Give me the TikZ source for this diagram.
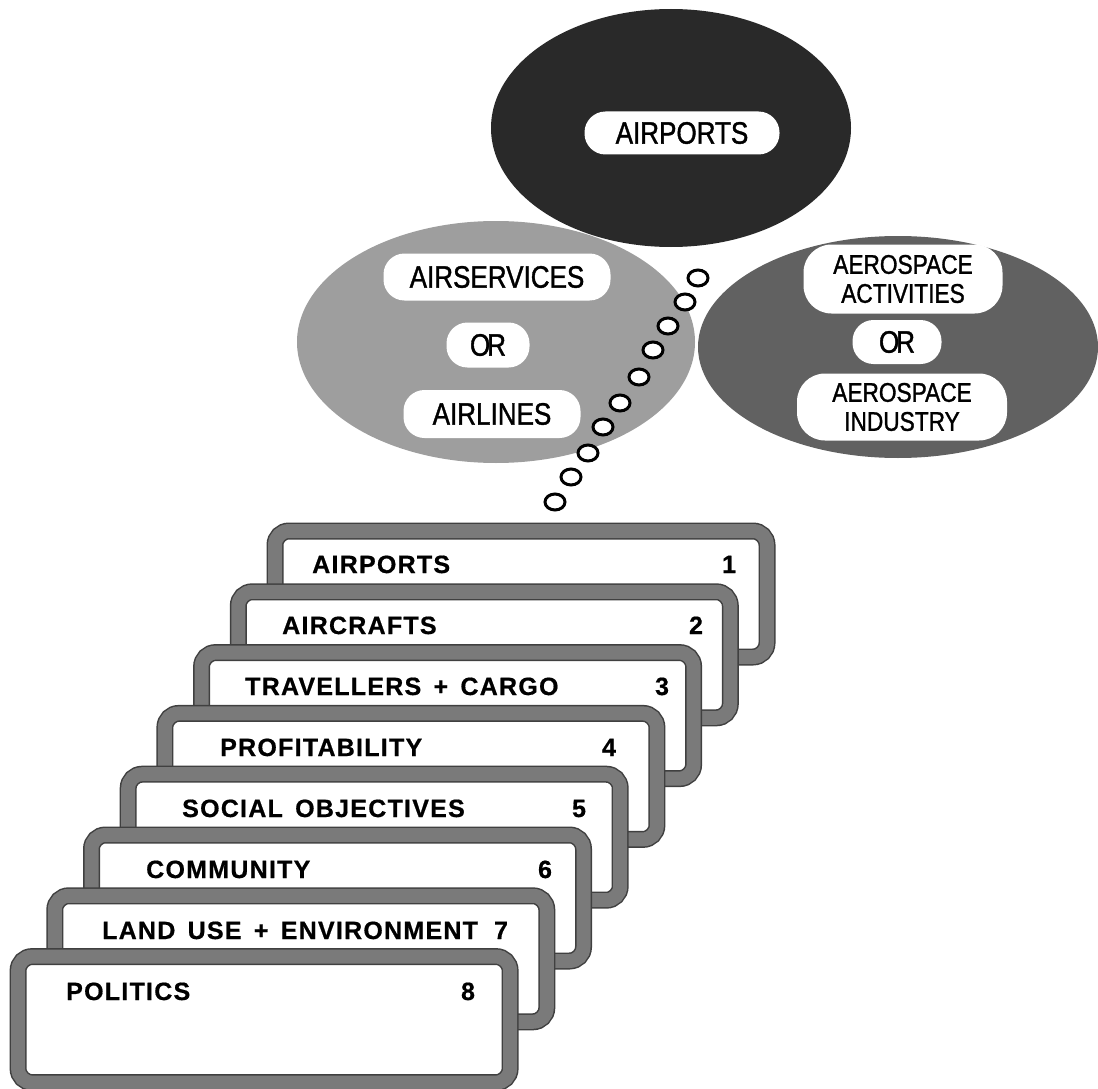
\documentclass[tikz,border=0pt]{standalone}
\usepackage{fontspec}
\setmainfont{Liberation Sans}
\newfontfamily\pillfont{Liberation Sans}[FakeStretch=0.84, FakeBold=1.2]
\newfontfamily\cardfont{Liberation Sans}[LetterSpace=5, WordSpace=1.5, FakeBold=0.6]
\usetikzlibrary{shapes.geometric}
\begin{document}
\begin{tikzpicture}[x=1pt,y=-1pt,
  cloud/.style={ellipse, inner sep=0pt, draw=none},
  pill/.style={fill=white, rounded corners=#1, inner sep=0pt, align=center,
    font=\pillfont\fontsize{31}{31}\selectfont},
  pill/.default=21pt,
  twoline/.style={font=\pillfont\fontsize{27}{29}\selectfont},
  bubble/.style={ellipse, draw=black, line width=3pt, fill=white,
    minimum width=20pt, minimum height=16pt, inner sep=0pt},
  card/.style={draw=black!75, line width=1.5pt, double=black!52,
    double distance=14pt, fill=white, rounded corners=14pt,
    minimum width=492pt, minimum height=126pt, inner sep=0pt},
  cardtext/.style={inner sep=0pt, font=\cardfont\bfseries\fontsize{25}{28}\selectfont}
]
\useasboundingbox (0,0) rectangle (1098,1089);

% the three clouds
\node[cloud, fill=black!38, minimum width=398pt, minimum height=242pt] (services) at (496,342) {};
\node[cloud, fill=black!62, minimum width=400pt, minimum height=222pt] (aerospace) at (898,347) {};
\node[cloud, fill=black!84, minimum width=360pt, minimum height=238pt] (hub) at (671,128) {};

% labels inside the clouds
\node[pill, minimum width=195pt, minimum height=43pt] (hubA) at (682,133) {AIRPORTS};
\node[pill, minimum width=227pt, minimum height=47pt] (srvA) at (497,277) {AIRSERVICES};
\node[pill, minimum width=83pt, minimum height=45pt] (srvOr) at (488,345) {O\kern-3pt R};
\node[pill, minimum width=177pt, minimum height=48pt] (srvB) at (492,414) {AIRLINES};
\node[pill=28pt, twoline, minimum width=199pt, minimum height=69pt] (aeroA) at (903,279) {AEROSPACE\\ACTIVITIES};
\node[pill, minimum width=89pt, minimum height=44pt] (aeroOr) at (897,342) {O\kern-3pt R};
\node[pill=28pt, twoline, minimum width=210pt, minimum height=67pt] (aeroB) at (902,407) {AEROSPACE\\INDUSTRY};

% thought bubbles trailing down to the stack
\foreach \n/\bx/\by in {1/698/278, 2/685/302, 3/668/326, 4/653/350, 5/639/377,
                         6/620/403, 7/603/427, 8/588/453, 9/571/477, 10/555/502}
  \node[bubble] (b\n) at (\bx,\by) {};

% the stack of levels
\foreach \i/\lab/\lx/\nx in {0/AIRPORTS/312/729, 1/AIRCRAFTS/282/696,
    2/TRAVELLERS + CARGO/245/662, 3/PROFITABILITY/220/609,
    4/SOCIAL OBJECTIVES/182/579, 5/COMMUNITY/146/545,
    6/LAND USE + ENVIRONMENT/102/501, 7/POLITICS/66/468} {
  \pgfmathtruncatemacro\num{\i+1}
  \node[card] (card\num) at ({521-36.7*\i},{594+60.8*\i}) {};
  \node[cardtext, anchor=base west] (lab\num) at (\lx,{573+61*\i}) {\lab};
  \node[cardtext, anchor=base] (num\num) at (\nx,{573+61*\i}) {\num};
}
\end{tikzpicture}
\end{document}
